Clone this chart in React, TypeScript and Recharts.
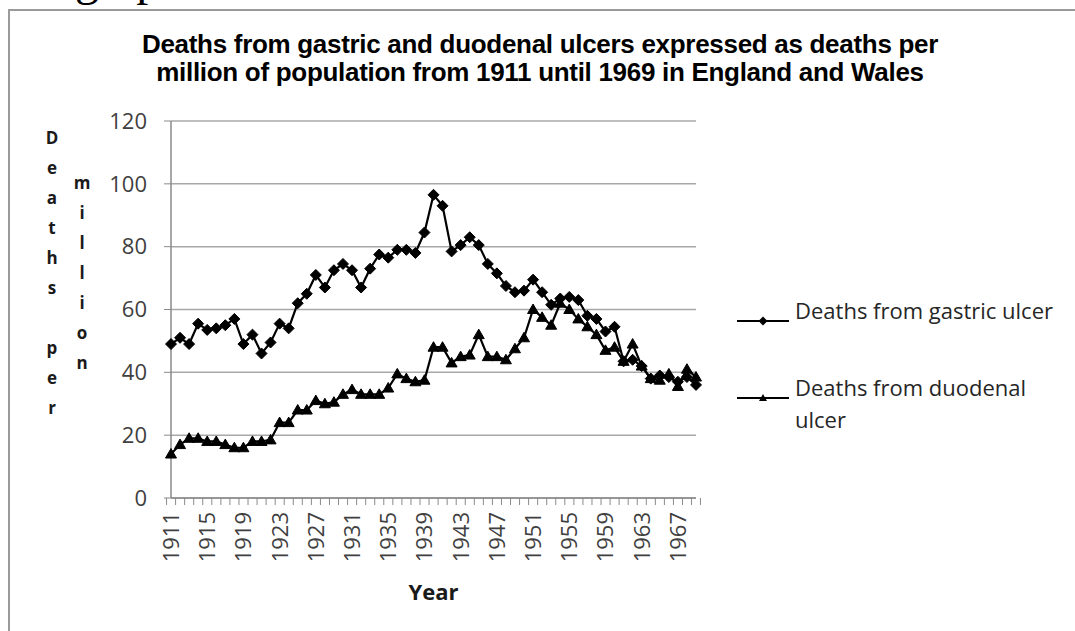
import React from "react";
import { LineChart, Line, XAxis, YAxis, CartesianGrid } from "recharts";

// Deaths per million, England and Wales, 1911–1969
const years = [
  "1911", "1912", "1913", "1914", "1915", "1916", "1917", "1918", "1919", "1920",
  "1921", "1922", "1923", "1924", "1925", "1926", "1927", "1928", "1929", "1930",
  "1931", "1932", "1933", "1934", "1935", "1936", "1937", "1938", "1939", "1940",
  "1941", "1942", "1943", "1944", "1945", "1946", "1947", "1948", "1949", "1950",
  "1951", "1952", "1953", "1954", "1955", "1956", "1957", "1958", "1959", "1960",
  "1961", "1962", "1963", "1964", "1965", "1966", "1967", "1968", "1969",
];

const gastric = [
  49, 51, 49, 55.5, 53.5, 54, 55, 57, 49, 52,
  46, 49.5, 55.5, 54, 62, 65, 71, 67, 72.5, 74.5,
  72.5, 67, 73, 77.5, 76.5, 79, 79, 78, 84.5, 96.5,
  93, 78.5, 80.5, 83, 80.5, 74.5, 71.5, 67.5, 65.5, 66,
  69.5, 65.5, 61.5, 63.5, 64, 63, 58, 57, 53, 54.5,
  43.5, 44, 42, 38, 39, 38.5, 37, 38.5, 36,
];

const duodenal = [
  14, 17, 19, 19, 18, 18, 17, 16, 16, 18,
  18, 18.5, 24, 24, 28, 28, 31, 30, 30.5, 33,
  34.5, 33, 33, 33, 35, 39.5, 38, 37, 37.5, 48,
  48, 43, 45, 45.5, 52, 45, 45, 44, 47.5, 51,
  60, 57.5, 55, 62, 60, 57, 54.5, 52, 47, 48,
  43.5, 49, 42, 38, 37.5, 39.5, 35.5, 41, 38.5,
];

const yTicks = [0, 20, 40, 60, 80, 100, 120];
const labelledYears = [
  "1911", "1915", "1919", "1923", "1927", "1931", "1935", "1939",
  "1943", "1947", "1951", "1955", "1959", "1963", "1967",
];

const seriesNames = ["Deaths from gastric ulcer", "Deaths from duodenal ulcer"];

const data = years.map((year, i) => ({
  year,
  gastric: gastric[i],
  duodenal: duodenal[i],
}));

const AXIS = "#8a8a8a";
const GRID = "#a8a8a8";
const TICK_TEXT = "#404040";
const FONT = "'Open Sans', sans-serif";

const PLOT_W = 525;
const HALF_BAND = PLOT_W / years.length / 2;

function YearTick(props: any) {
  const { x, y, payload } = props;
  const index = props.index ?? payload?.index ?? 0;
  const ty = y + 14;
  return (
    <g>
      <line x1={x - HALF_BAND} x2={x - HALF_BAND} y1={y} y2={y + 7} stroke={AXIS} />
      {index === years.length - 1 && (
        <line x1={x + HALF_BAND} x2={x + HALF_BAND} y1={y} y2={y + 7} stroke={AXIS} />
      )}
      {labelledYears.includes(payload.value) && (
        <text
          x={x}
          y={ty}
          dy="0.36em"
          transform={`rotate(-90 ${x} ${ty})`}
          textAnchor="end"
          fill={TICK_TEXT}
          fontSize={22}
          fontFamily={FONT}
        >
          {payload.value}
        </text>
      )}
    </g>
  );
}

function Diamond(props: any) {
  const { cx, cy } = props;
  if (cx == null || cy == null) return <g />;
  const r = 5.5;
  return (
    <path
      d={`M${cx},${cy - r}L${cx + r},${cy}L${cx},${cy + r}L${cx - r},${cy}Z`}
      fill="#000"
      stroke="#000"
    />
  );
}

function Triangle(props: any) {
  const { cx, cy } = props;
  if (cx == null || cy == null) return <g />;
  return (
    <path
      d={`M${cx},${cy - 5.5}L${cx + 5.5},${cy + 4}L${cx - 5.5},${cy + 4}Z`}
      fill="#000"
      stroke="#000"
    />
  );
}

function LegendMark({ kind }: { kind: "diamond" | "triangle" }) {
  return (
    <svg width={52} height={14} style={{ flex: "none" }}>
      <line x1={0} x2={52} y1={7} y2={7} stroke="#000" strokeWidth={2} />
      {kind === "diamond" ? (
        <path d="M26,2.5L30.5,7L26,11.5L21.5,7Z" fill="#000" />
      ) : (
        <path d="M26,3L30,10L22,10Z" fill="#000" />
      )}
    </svg>
  );
}

function VerticalWord({ text, left, top }: { text: string; left: number; top: number }) {
  return (
    <div
      style={{
        position: "absolute",
        left: left - 15,
        top,
        width: 30,
        textAlign: "center",
        fontFamily: FONT,
        fontWeight: 700,
        fontSize: 17,
        lineHeight: "30px",
        color: "#1a1a1a",
      }}
    >
      {text.split("").map((ch, i) => (
        <div key={i} style={{ height: 30 }}>
          {ch === " " ? "\u00a0" : ch}
        </div>
      ))}
    </div>
  );
}

export default function App() {
  return (
    <div
      style={{
        position: "fixed",
        left: 0,
        top: 0,
        width: 1075,
        height: 631,
        overflow: "hidden",
        background: "#fff",
      }}
    >
      {/* clipped line of document text above the figure */}
      <div
        style={{
          position: "absolute",
          left: 75,
          top: -51,
          fontFamily: "'Liberation Serif', serif",
          fontSize: 48,
          lineHeight: "60px",
          color: "#000",
          whiteSpace: "nowrap",
        }}
      >
        graph
      </div>

      {/* figure frame */}
      <div
        style={{
          position: "absolute",
          left: 8,
          top: 9,
          width: 1200,
          height: 800,
          borderLeft: "2px solid #9a9a9a",
          borderTop: "2px solid #9a9a9a",
        }}
      />

      <div style={{ position: "absolute", left: 0, top: 0 }}>
        <LineChart
          width={1075}
          height={631}
          data={data}
          margin={{ top: 121, right: 379, bottom: 0, left: 0 }}
        >
          <CartesianGrid vertical={false} stroke={GRID} strokeWidth={1.5} />
          <XAxis
            dataKey="year"
            height={133}
            interval={0}
            tickSize={0}
            tickMargin={0}
            tickLine={false}
            tick={<YearTick />}
            axisLine={{ stroke: AXIS, strokeWidth: 1.5 }}
            label={{
              value: "Year",
              position: "insideBottom",
              offset: 31,
              fill: "#1a1a1a",
              fontSize: 22,
              fontWeight: 700,
              fontFamily: FONT,
            }}
          />
          <YAxis
            width={171}
            domain={[0, 120]}
            ticks={yTicks}
            interval={0}
            tickSize={7}
            tickMargin={17}
            tickLine={{ stroke: AXIS }}
            axisLine={{ stroke: AXIS, strokeWidth: 1.5 }}
            tick={{ fill: TICK_TEXT, fontSize: 22, fontFamily: FONT }}
          />
          <Line
            dataKey="gastric"
            name={seriesNames[0]}
            stroke="#000"
            strokeWidth={2.2}
            dot={Diamond}
            activeDot={false}
            isAnimationActive={false}
          />
          <Line
            dataKey="duodenal"
            name={seriesNames[1]}
            stroke="#000"
            strokeWidth={2.2}
            dot={Triangle}
            activeDot={false}
            isAnimationActive={false}
          />
        </LineChart>
      </div>

      {/* title */}
      <div
        style={{
          position: "absolute",
          left: 0,
          top: 30,
          width: 1080,
          textAlign: "center",
          fontFamily: "'Liberation Sans', Arial, sans-serif",
          fontWeight: 700,
          fontSize: 26,
          lineHeight: "28px",
          letterSpacing: -0.3,
          color: "#000",
        }}
      >
        Deaths from gastric and duodenal ulcers expressed as deaths per
        <br />
        million of population from 1911 until 1969 in England and Wales
      </div>

      {/* y-axis title, stacked letters */}
      <VerticalWord text="Deaths per" left={52} top={123} />
      <VerticalWord text="million" left={82} top={168} />

      {/* legend */}
      <div
        style={{
          position: "absolute",
          left: 737,
          top: 294,
          width: 330,
          fontFamily: FONT,
          fontSize: 22,
          lineHeight: "32px",
          color: "#262626",
        }}
      >
        <div style={{ display: "flex", alignItems: "flex-start", height: 77 }}>
          <div style={{ marginTop: 9 }}>
            <LegendMark kind="diamond" />
          </div>
          <div style={{ marginLeft: 6, width: 270 }}>{seriesNames[0]}</div>
        </div>
        <div style={{ display: "flex", alignItems: "flex-start" }}>
          <div style={{ marginTop: 9 }}>
            <LegendMark kind="triangle" />
          </div>
          <div style={{ marginLeft: 6, width: 262 }}>{seriesNames[1]}</div>
        </div>
      </div>
    </div>
  );
}
